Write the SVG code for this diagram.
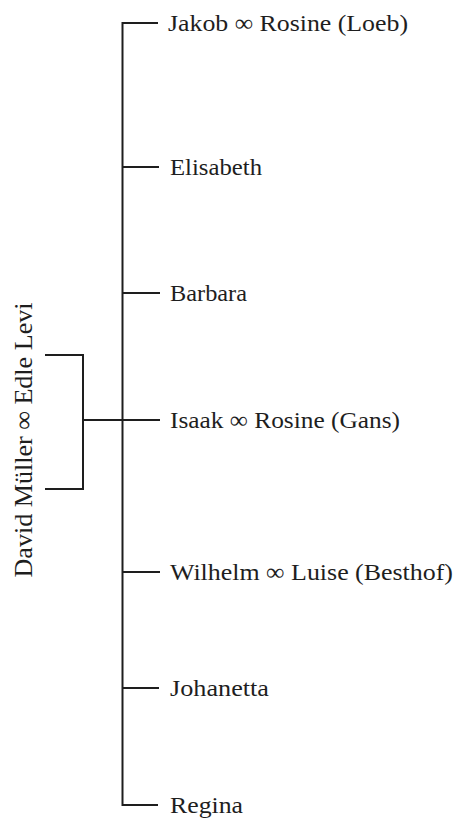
<svg xmlns="http://www.w3.org/2000/svg" width="456" height="823" viewBox="0 0 456 823">
<style>
.ln{fill:none;stroke:#1e1e1e;stroke-width:2}
.t{font-family:"Liberation Serif","Times New Roman",serif;font-size:24px;fill:#1e1e1e}
.tv{font-family:"Liberation Serif","Times New Roman",serif;font-size:26px;fill:#1e1e1e}
</style>
<rect width="456" height="823" fill="#fff"/>
<g id="connectors">
<path class="ln" d="M158,23 H122.5 V805 H158"/>
<path class="ln" d="M122.5,167 H159 M122.5,293 H160 M122.5,420 H160 M122.5,572 H160 M122.5,688 H159"/>
<path class="ln" d="M45,355 H83 V489 H45 M83,420 H122.5"/>
</g>
<g id="parents"><text class="tv" transform="translate(32,440) rotate(-90)" text-anchor="middle" textLength="275" lengthAdjust="spacingAndGlyphs">David Müller ∞ Edle Levi</text></g>
<g id="jakob"><text class="t" x="168" y="31" textLength="240" lengthAdjust="spacingAndGlyphs">Jakob ∞ Rosine (Loeb)</text></g>
<g id="elisabeth"><text class="t" x="170" y="175" textLength="92" lengthAdjust="spacingAndGlyphs">Elisabeth</text></g>
<g id="barbara"><text class="t" x="170" y="301" textLength="77" lengthAdjust="spacingAndGlyphs">Barbara</text></g>
<g id="isaak"><text class="t" x="170" y="428" textLength="230" lengthAdjust="spacingAndGlyphs">Isaak ∞ Rosine (Gans)</text></g>
<g id="wilhelm"><text class="t" x="170" y="580" textLength="283" lengthAdjust="spacingAndGlyphs">Wilhelm ∞ Luise (Besthof)</text></g>
<g id="johanetta"><text class="t" x="170" y="696" textLength="99" lengthAdjust="spacingAndGlyphs">Johanetta</text></g>
<g id="regina"><text class="t" x="170" y="813" textLength="73" lengthAdjust="spacingAndGlyphs">Regina</text></g>
</svg>
